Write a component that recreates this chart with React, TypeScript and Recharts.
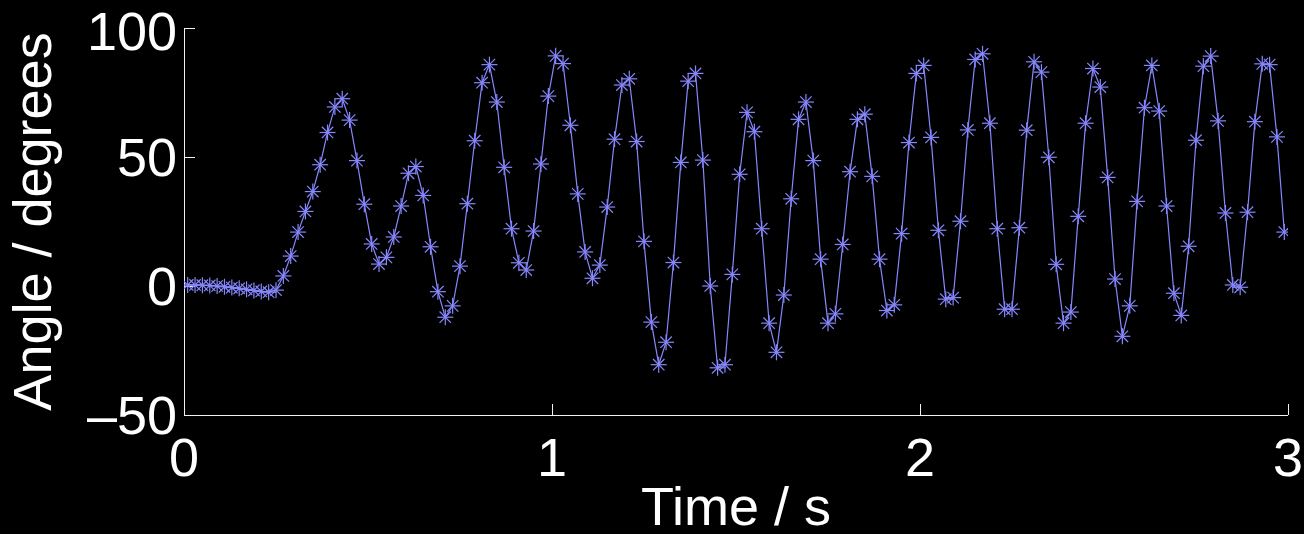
import React from 'react';
import { LineChart, Line, XAxis, YAxis, Label } from 'recharts';

// Sample times (s), one sample every 20 ms
const times: number[] = [
  0.01, 0.03, 0.05, 0.07, 0.09, 0.11, 0.13, 0.15, 0.17, 0.19,
  0.21, 0.23, 0.25, 0.27, 0.29, 0.31, 0.33, 0.35, 0.37, 0.39,
  0.41, 0.43, 0.45, 0.47, 0.49, 0.51, 0.53, 0.55, 0.57, 0.59,
  0.61, 0.63, 0.65, 0.67, 0.69, 0.71, 0.73, 0.75, 0.77, 0.79,
  0.81, 0.83, 0.85, 0.87, 0.89, 0.91, 0.93, 0.95, 0.97, 0.99,
  1.01, 1.03, 1.05, 1.07, 1.09, 1.11, 1.13, 1.15, 1.17, 1.19,
  1.21, 1.23, 1.25, 1.27, 1.29, 1.31, 1.33, 1.35, 1.37, 1.39,
  1.41, 1.43, 1.45, 1.47, 1.49, 1.51, 1.53, 1.55, 1.57, 1.59,
  1.61, 1.63, 1.65, 1.67, 1.69, 1.71, 1.73, 1.75, 1.77, 1.79,
  1.81, 1.83, 1.85, 1.87, 1.89, 1.91, 1.93, 1.95, 1.97, 1.99,
  2.01, 2.03, 2.05, 2.07, 2.09, 2.11, 2.13, 2.15, 2.17, 2.19,
  2.21, 2.23, 2.25, 2.27, 2.29, 2.31, 2.33, 2.35, 2.37, 2.39,
  2.41, 2.43, 2.45, 2.47, 2.49, 2.51, 2.53, 2.55, 2.57, 2.59,
  2.61, 2.63, 2.65, 2.67, 2.69, 2.71, 2.73, 2.75, 2.77, 2.79,
  2.81, 2.83, 2.85, 2.87, 2.89, 2.91, 2.93, 2.95, 2.97, 2.99,
];

// Joint angle (degrees) at each sample time
const angles: number[] = [
  0.4, 0.4, 0.3, 0.2, 0.0, -0.3, -0.6, -0.9, -1.3, -1.7,
  -2.1, -2.4, -1.6, 3.9, 11.6, 20.9, 28.9, 36.6, 47.0, 59.5,
  69.4, 72.6, 64.3, 48.6, 31.7, 16.3, 8.5, 11.1, 19.0, 31.0,
  43.7, 46.3, 35.1, 15.2, -2.2, -12.1, -7.7, 7.7, 31.9, 56.3,
  78.8, 85.8, 71.3, 46.0, 22.2, 9.0, 6.2, 21.3, 47.3, 73.6,
  89.2, 86.2, 62.3, 35.7, 13.2, 3.0, 8.1, 30.6, 56.9, 77.9,
  80.3, 56.0, 17.3, -14.0, -30.5, -21.8, 9.1, 47.9, 79.4, 82.4,
  48.8, 0.0, -31.7, -30.5, 4.5, 43.3, 67.3, 59.8, 22.2, -14.4,
  -25.7, -3.5, 33.8, 64.6, 71.3, 48.6, 10.4, -14.4, -10.8, 16.1,
  44.3, 64.6, 66.6, 42.5, 10.4, -9.5, -7.3, 20.3, 55.6, 82.4,
  85.5, 57.6, 21.6, -5.1, -4.5, 25.1, 60.5, 87.8, 90.0, 63.1,
  22.2, -9.0, -9.0, 22.6, 60.4, 86.9, 82.9, 49.9, 8.4, -14.4,
  -10.1, 27.0, 63.1, 84.3, 77.1, 42.1, 2.7, -19.5, -7.7, 32.8,
  69.1, 85.5, 67.8, 31.0, -2.8, -11.4, 15.4, 56.5, 85.2, 89.1,
  64.0, 28.3, 0.4, -0.5, 28.6, 63.7, 86.1, 85.8, 57.8, 20.9,
];

const xTicks: number[] = [0, 1, 2, 3];
const yTicks: number[] = [-50, 0, 50, 100];

const data = times.map((t, i) => ({ t, angle: angles[i] }));

const LINE_COLOR = '#8787ff';
const AXIS_COLOR = '#f2f2f2';
const FONT = '"Liberation Sans", Arial, Helvetica, sans-serif';

// Eight-armed asterisk marker
const AsteriskDot = (props: any) => {
  const { cx, cy, index } = props;
  if (cx == null || cy == null) return <g key={`d-${index}`} />;
  const r = 8;
  const d = 5.7;
  return (
    <g key={`d-${index}`} stroke={LINE_COLOR} strokeWidth={1.2}>
      <line x1={cx - r} y1={cy} x2={cx + r} y2={cy} />
      <line x1={cx} y1={cy - r} x2={cx} y2={cy + r} />
      <line x1={cx - d} y1={cy - d} x2={cx + d} y2={cy + d} />
      <line x1={cx - d} y1={cy + d} x2={cx + d} y2={cy - d} />
    </g>
  );
};

const XTitle = (props: any) => {
  const vb = props.viewBox || { x: 184, y: 415, width: 1104, height: 119 };
  return (
    <text
      x={vb.x + vb.width / 2}
      y={vb.y + 110}
      textAnchor="middle"
      fill="#ffffff"
      fontSize={54}
      fontFamily={FONT}
    >
      Time / s
    </text>
  );
};

const YTitle = (props: any) => {
  const vb = props.viewBox || { x: 0, y: 28, width: 184, height: 387 };
  const x = 51;
  const y = vb.y + vb.height / 2;
  return (
    <text
      x={x}
      y={y}
      transform={`rotate(-90, ${x}, ${y})`}
      textAnchor="middle"
      fill="#ffffff"
      fontSize={54}
      fontFamily={FONT}
    >
      Angle / degrees
    </text>
  );
};

const axisLineStyle = { stroke: AXIS_COLOR, shapeRendering: 'crispEdges' } as any;

export default function App() {
  return (
    <div
      style={{
        position: 'absolute',
        left: 0,
        top: 0,
        width: 1304,
        height: 534,
        background: '#000000',
        fontFamily: FONT,
        overflow: 'hidden',
      }}
    >
      <LineChart
        width={1304}
        height={534}
        data={data}
        margin={{ top: 28, right: 16, bottom: 0, left: 0 }}
      >
        <XAxis
          dataKey="t"
          type="number"
          domain={[0, 3]}
          ticks={xTicks}
          allowDataOverflow
          height={119}
          stroke={AXIS_COLOR}
          axisLine={axisLineStyle}
          tickLine={axisLineStyle}
          tickSize={-11}
          tickMargin={34}
          tick={{ fill: '#ffffff', fontSize: 54, fontFamily: FONT }}
        >
          <Label content={<XTitle />} />
        </XAxis>
        <YAxis
          type="number"
          domain={[-50, 100]}
          ticks={yTicks}
          allowDataOverflow
          width={184}
          stroke={AXIS_COLOR}
          axisLine={axisLineStyle}
          tickLine={axisLineStyle}
          tickSize={-11}
          tickMargin={18}
          tick={{ fill: '#ffffff', fontSize: 54, fontFamily: FONT }}
          tickFormatter={(v: number) => (v < 0 ? `\u2013${Math.abs(v)}` : `${v}`)}
        >
          <Label content={<YTitle />} />
        </YAxis>
        <Line
          dataKey="angle"
          type="linear"
          stroke={LINE_COLOR}
          strokeWidth={1.2}
          dot={AsteriskDot}
          activeDot={false}
          isAnimationActive={false}
        />
      </LineChart>
    </div>
  );
}
